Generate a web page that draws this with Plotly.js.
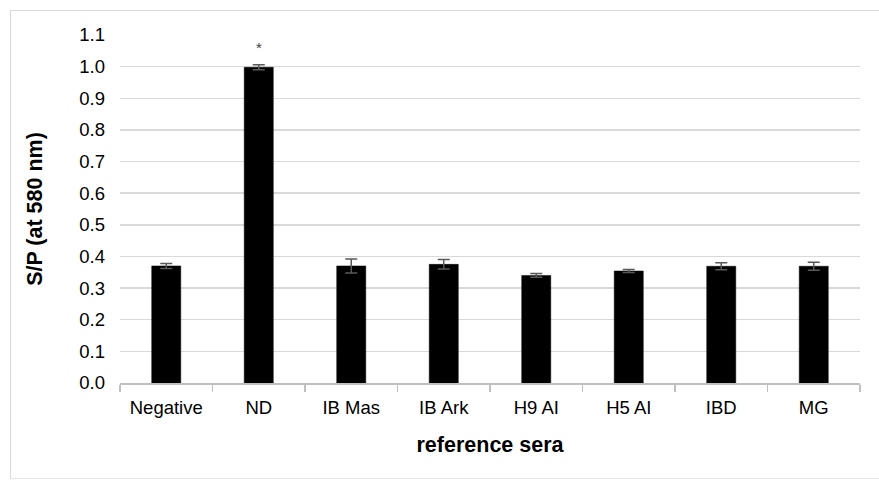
<!DOCTYPE html>
<html>
<head>
<meta charset="utf-8">
<script src="https://cdn.plot.ly/plotly-3.0.1.min.js"></script>
<style>
  html, body { margin: 0; padding: 0; background: #fff; }
  #wrap { position: relative; width: 879px; height: 480px; overflow: hidden; }
  #chart { width: 879px; height: 480px; }
  #frame { position: absolute; left: 10px; top: 10px; width: 900px; height: 467px;
           border-left: 1.5px solid #d9d9d9; border-top: 1.5px solid #d9d9d9; border-bottom: 1.5px solid #e3e3e3;
           pointer-events: none; }
</style>
</head>
<body>
<div id="wrap">
  <div id="chart"></div>
  <div id="frame"></div>
</div>
<script>
const categories = ['Negative', 'ND', 'IB Mas', 'IB Ark', 'H9 AI', 'H5 AI', 'IBD', 'MG'];
const spValues = [0.370, 0.998, 0.370, 0.375, 0.340, 0.354, 0.369, 0.369];
const spErrors = [0.008, 0.008, 0.022, 0.015, 0.006, 0.005, 0.011, 0.013];
const yTickValues = [0, 0.1, 0.2, 0.3, 0.4, 0.5, 0.6, 0.7, 0.8, 0.9, 1.0, 1.1];
const markCategory = 'ND';
const markValue = 1.061;
const markText = '*';

const font = 'Liberation Sans, Arial, sans-serif';

const trace = {
  type: 'bar',
  x: categories,
  y: spValues,
  marker: { color: '#000000', line: { color: '#000000', width: 0.5 } },
  error_y: { type: 'data', array: spErrors, visible: true, color: '#595959', thickness: 1.5, width: 6 },
  hoverinfo: 'x+y'
};

const layout = {
  width: 879,
  height: 480,
  margin: { l: 120, r: 19, t: 35, b: 97 },
  paper_bgcolor: '#ffffff',
  plot_bgcolor: '#ffffff',
  bargap: 0.686,
  showlegend: false,
  font: { family: font, color: '#000000', size: 18.5 },
  xaxis: {
    type: 'category',
    showline: true,
    linecolor: '#bfbfbf',
    linewidth: 1.5,
    ticks: 'outside',
    tickson: 'boundaries',
    ticklen: 7,
    tickcolor: '#bfbfbf',
    tickwidth: 1.2,
    ticklabelstandoff: 7,
    showgrid: false,
    tickfont: { family: font, size: 18.5, color: '#000000' },
    title: { text: 'reference sera', font: { family: font, size: 21.5, color: '#000000', weight: 'bold' }, standoff: 20 }
  },
  yaxis: {
    range: [0, 1.1],
    tickvals: yTickValues,
    tickformat: '.1f',
    showline: false,
    zeroline: false,
    showgrid: true,
    gridcolor: '#d9d9d9',
    gridwidth: 1.5,
    ticks: '',
    ticklabelstandoff: 14,
    tickfont: { family: font, size: 18.5, color: '#000000' },
    title: { text: 'S/P (at 580 nm)', font: { family: font, size: 21.5, color: '#000000', weight: 'bold' }, standoff: 30 }
  },
  annotations: [{
    x: markCategory, y: markValue, xref: 'x', yref: 'y',
    text: markText, showarrow: false,
    font: { family: font, size: 15, color: '#404040' }
  }]
};

Plotly.newPlot('chart', [trace], layout, { staticPlot: true, displayModeBar: false });
</script>
</body>
</html>
